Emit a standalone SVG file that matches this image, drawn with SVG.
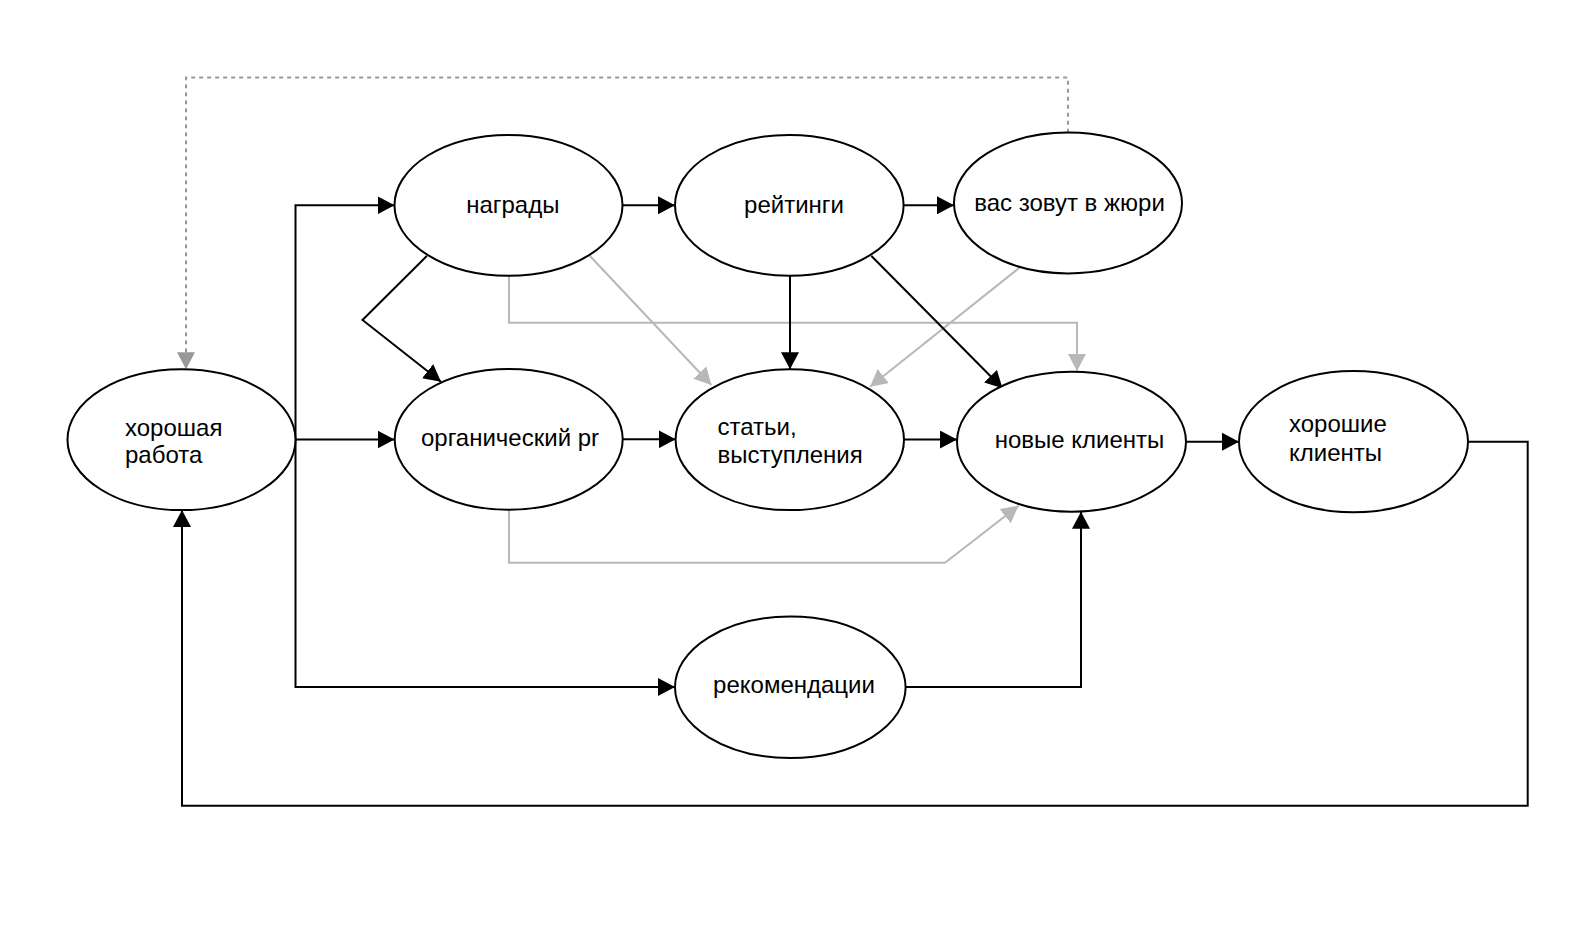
<svg xmlns="http://www.w3.org/2000/svg" width="1596" height="934" viewBox="0 0 1596 934">
<style>
.node ellipse{fill:#fff;stroke:#000;stroke-width:2}
.node text{font-family:"Liberation Sans",Arial,sans-serif;font-size:24px;fill:#000}
.c{fill:none;stroke-width:2}
.k{stroke:#000;marker-end:url(#ak)}
.g{stroke:#b8b8b8;marker-end:url(#ag)}
.d{stroke:#999;stroke-dasharray:4 4;marker-end:url(#ad)}
</style>
<defs>
<marker id="ak" markerUnits="userSpaceOnUse" markerWidth="18" markerHeight="18" refX="17" refY="9" orient="auto"><path d="M0,0 L17,9 L0,18 z" fill="#000"/></marker>
<marker id="ag" markerUnits="userSpaceOnUse" markerWidth="18" markerHeight="18" refX="17" refY="9" orient="auto"><path d="M0,0 L17,9 L0,18 z" fill="#b8b8b8"/></marker>
<marker id="ad" markerUnits="userSpaceOnUse" markerWidth="18" markerHeight="18" refX="17" refY="9" orient="auto"><path d="M0,0 L17,9 L0,18 z" fill="#999"/></marker>
</defs>
<rect width="1596" height="934" fill="#fff"/>
<g id="connectors">
<path class="c d" d="M1068,132.7 V77.5 H186 V369.3"/>
<path class="c g" d="M509,276 V322.7 H1077 V371"/>
<path class="c g" d="M590,256 L711.4,385"/>
<path class="c g" d="M1020,267.3 L870,386.7"/>
<path class="c g" d="M509,510 V562.7 H945 L1018.6,505.7"/>
<path class="c k" d="M295.5,439.5 V205.3 H394.5"/>
<path class="c k" d="M295.5,439.5 H394.5"/>
<path class="c k" d="M295.5,439.5 V687 H675"/>
<path class="c k" d="M622.5,205.3 H675"/>
<path class="c k" d="M903.5,205.3 H954"/>
<path class="c k" d="M426.8,256 L362.5,320 L441,381.7"/>
<path class="c k" d="M790,276 V369.3"/>
<path class="c k" d="M871.4,256 L1002.5,388.3"/>
<path class="c k" d="M623,439.3 H675.7"/>
<path class="c k" d="M904,439.5 H957"/>
<path class="c k" d="M1186,441.7 H1239"/>
<path class="c k" d="M1468,441.7 H1527.7 V805.7 H182 V510"/>
<path class="c k" d="M905.5,687 H1081 V511.7"/>
</g>
<g id="n-horoshaya-rabota" class="node"><ellipse cx="181.5" cy="439.7" rx="114" ry="70.4"/><text x="125" y="436">хорошая</text><text x="125" y="463.3">работа</text></g>
<g id="n-nagrady" class="node"><ellipse cx="508.5" cy="205.3" rx="114" ry="70.4"/><text x="512.8" y="213.3" text-anchor="middle">награды</text></g>
<g id="n-reitingi" class="node"><ellipse cx="789.3" cy="205.3" rx="114.3" ry="70.4"/><text x="794" y="213.3" text-anchor="middle">рейтинги</text></g>
<g id="n-zhuri" class="node"><ellipse cx="1068" cy="203" rx="114" ry="70.4"/><text x="1069.5" y="210.7" text-anchor="middle">вас зовут в жюри</text></g>
<g id="n-organic" class="node"><ellipse cx="508.7" cy="439.3" rx="114" ry="70.4"/><text x="510" y="446" text-anchor="middle">органический pr</text></g>
<g id="n-stati" class="node"><ellipse cx="789.8" cy="439.7" rx="114.2" ry="70.4"/><text x="717.5" y="435">статьи,</text><text x="717.5" y="463.3">выступления</text></g>
<g id="n-novye" class="node"><ellipse cx="1071.5" cy="441.7" rx="114.5" ry="70"/><text x="1079.5" y="448" text-anchor="middle">новые клиенты</text></g>
<g id="n-horoshie" class="node"><ellipse cx="1353.5" cy="441.7" rx="114.5" ry="70.6"/><text x="1289" y="431.7">хорошие</text><text x="1289" y="460.7">клиенты</text></g>
<g id="n-rekomendacii" class="node"><ellipse cx="790.3" cy="687.3" rx="115.3" ry="70.7"/><text x="794" y="693.3" text-anchor="middle">рекомендации</text></g>
</svg>
